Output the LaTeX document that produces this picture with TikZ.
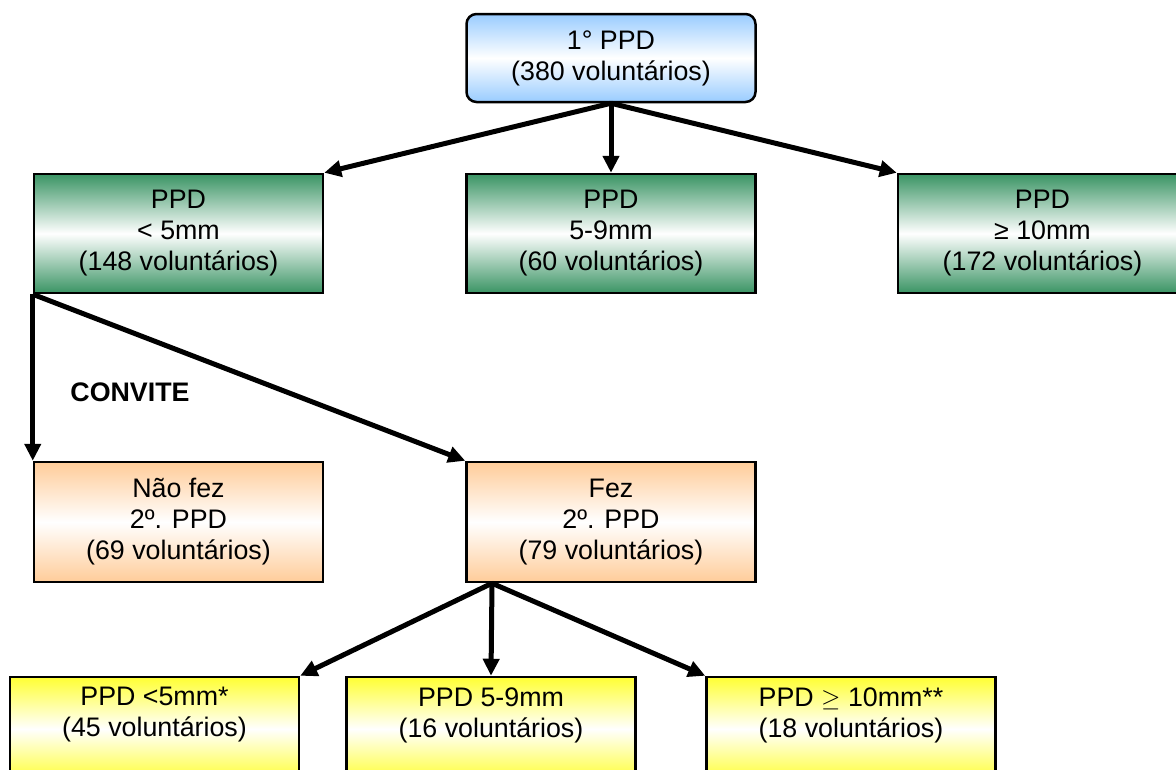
\documentclass[tikz,border=0pt]{standalone}
\usepackage{fontspec}
\setmainfont{Liberation Sans}
\usetikzlibrary{arrows.meta}

\definecolor{boxblue}{HTML}{99CCFF}
\definecolor{boxgreen}{HTML}{3A9464}
\definecolor{boxorange}{HTML}{FFCC99}
\definecolor{boxyellow}{HTML}{FFFF33}

\begin{document}
\begin{tikzpicture}[x=1pt,y=-1pt,
  lbl/.style={align=center, inner sep=0pt, font=\fontsize{26.8}{31}\selectfont},
  box/.style={lbl, draw=black, line width=2.5pt, minimum width=289pt,
    top color=#1, bottom color=#1, middle color=white},
  arr/.style={line width=5pt, -{Triangle[length=17pt,width=16pt]}}
]
\useasboundingbox (0,0) rectangle (1176,769);
\clip (0,0) rectangle (1176,769);

% level 0
\node[box=boxblue, minimum height=88pt, rounded corners=10pt] (top) at (611,58)
  {1° PPD\\(380 voluntários)};

% level 1: first test result
\node[box=boxgreen, minimum height=119pt] (g1) at (178.5,233.5) {PPD\\< 5mm\\(148 voluntários)};
\node[box=boxgreen, minimum height=119pt] (g2) at (611,233.5) {PPD\\5-9mm\\(60 voluntários)};
\node[box=boxgreen, minimum height=119pt] (g3) at (1042.5,233.5) {PPD\\≥ 10mm\\(172 voluntários)};

% level 2: second test taken or not
\node[box=boxorange, minimum height=120pt] (o1) at (178.5,522) {Não fez\\2º. PPD\\(69 voluntários)};
\node[box=boxorange, minimum height=120pt] (o2) at (611,522) {Fez\\2º. PPD\\(79 voluntários)};

\node[lbl, font=\fontsize{26.8}{31}\selectfont\bfseries] (conv) at (130,392) {CONVITE};

% level 3: second test result
\node[box=boxyellow, minimum height=104pt] (y1) at (154.5,729) {};
\node[box=boxyellow, minimum height=104pt] (y2) at (491,729) {};
\node[box=boxyellow, minimum height=104pt] (y3) at (851,729) {};
\node[lbl] (t1) at (154.5,715) {PPD <5mm*\\(45 voluntários)};
\node[lbl] (t2) at (491,715) {PPD 5-9mm\\(16 voluntários)};
\node[lbl] (t3) at (851,715) {PPD $\geq$ 10mm**\\(18 voluntários)};

% connectors
\draw[arr] (top.south) -- (g1.north east);
\draw[arr] (top.south) -- (g2.north);
\draw[arr] (top.south) -- (g3.north west);

\draw[arr] (g1.south west) -- (o1.north west);
\draw[arr] (g1.south west) -- (o2.north west);

\coordinate (o2f) at ([xshift=-119pt]o2.south);
\draw[arr] (o2f) -- (y1.north east);
\draw[arr] (o2f) -- (y2.north);
\draw[arr] (o2f) -- (y3.north west);
\end{tikzpicture}
\end{document}
